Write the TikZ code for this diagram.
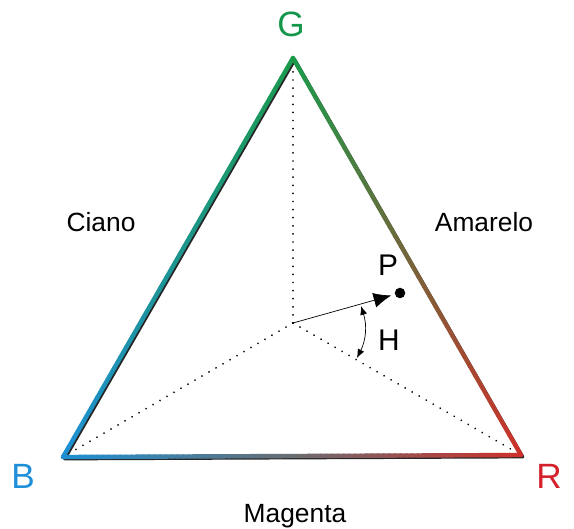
\documentclass[tikz,border=0pt]{standalone}
\usepackage{fontspec}
\setmainfont{Liberation Sans}
\usetikzlibrary{calc,arrows.meta}
\definecolor{cB}{HTML}{1E90D2}
\definecolor{cG}{HTML}{1B9A4A}
\definecolor{cR}{HTML}{D0302A}
\definecolor{cM}{HTML}{6A6D72}
\definecolor{tB}{HTML}{1E8FD8}
\definecolor{tG}{HTML}{14964A}
\definecolor{tR}{HTML}{D4202A}
\begin{document}
\begin{tikzpicture}[x=0.02cm,y=-0.02cm,
  lbl/.style={font=\fontsize{15}{18}\selectfont,anchor=base,inner sep=0pt},
  vtx/.style={font=\fontsize{20}{24}\selectfont,anchor=base,inner sep=0pt},
  dotline/.style={line width=1.1pt,line cap=round,dash pattern=on 0.01pt off 4.6pt}]
\useasboundingbox (0,0) rectangle (574,528);
\coordinate (G) at (293,58);
\coordinate (B) at (63,457);
\coordinate (R) at (521,455);
\coordinate (M) at ($(B)!0.5!(R)$);
\coordinate (O) at (293,323);
% spokes
\draw[dotline] (O) -- ($(O)!0.98!(G)$);
\draw[dotline] (O) -- ($(O)!0.97!(B)$);
\draw[dotline] (O) -- ($(O)!0.97!(R)$);
% shadow and graded edges
\draw[black!85,line width=1.8pt,line join=round] ([shift={(1.8,1.8)}]B) -- ([shift={(1.8,1.8)}]G) -- ([shift={(1.8,1.8)}]R) -- cycle;
\foreach \a/\b/\ca/\cb in {B/G/cB/cG,G/R/cG/cR,B/M/cB/cM,M/R/cM/cR}{
  \foreach \i [evaluate=\i as \p using 100-2.5*\i] in {0,...,39}{
    \draw[\ca!\p!\cb,line width=2.5pt,line cap=round] ($(\a)!{\i/40}!(\b)$) -- ($(\a)!{(\i+1)/40}!(\b)$);}}
% point and hue angle
\node[circle,fill=black,inner sep=0pt,minimum size=6pt] (dot) at (400,293) {};
\draw[line width=0.4pt,-{Latex[length=10pt,width=8.5pt]},shorten >=2pt] (O) -- (dot);
\coordinate (h1) at (361,306);
\coordinate (h2) at (357,358);
\draw[line width=0.4pt,{Latex[length=5pt,width=4pt]}-{Latex[length=5pt,width=4pt]}] (h1) to[bend left=22] (h2);
% labels
\node[vtx,text=tG] (lG) at (291,36) {G};
\node[vtx,text=tB] (lB) at (23,488) {B};
\node[vtx,text=tR] (lR) at (549,488) {R};
\node[lbl,font=\fontsize{17}{20}\selectfont] (lP) at (388,275) {P};
\node[lbl,font=\fontsize{17}{20}\selectfont] (lH) at (389,350) {H};
\node[lbl] (ciano) at (101,231) {Ciano};
\node[lbl] (amarelo) at (484,231) {Amarelo};
\node[lbl] (magenta) at (295,522) {Magenta};
\end{tikzpicture}
\end{document}
